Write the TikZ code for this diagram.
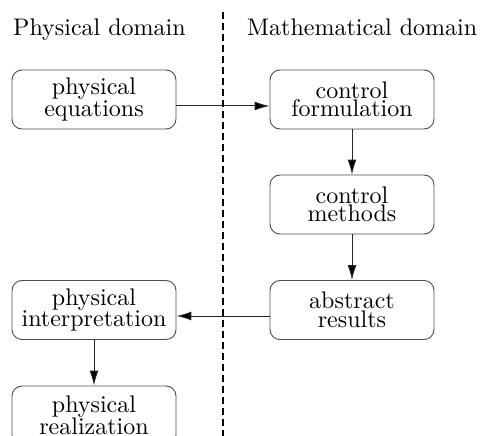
\documentclass[tikz,border=0pt]{standalone}
\usepackage{fontspec}
\setmainfont{lmroman10-regular.otf}
\usetikzlibrary{arrows.meta}
\begin{document}
\begin{tikzpicture}[x=1pt,y=-1pt,
  box/.style={draw=black!70, line width=0.9pt, rounded corners=10pt,
    minimum width=164pt, minimum height=59pt, inner sep=0pt, align=center,
    font=\fontsize{24}{18.5}\selectfont},
  title/.style={anchor=base west, inner sep=0pt, font=\fontsize{24}{28}\selectfont},
  arr/.style={draw=black!85, line width=1pt, -{Latex[length=15pt,width=9pt,fill=black]}}]
\useasboundingbox (0,0) rectangle (480,436);
\clip (0,0) rectangle (480,436);
\node[title] (tp) at (13,36) {Physical domain};
\node[title] (tm) at (247,36) {Mathematical domain};
\coordinate (dtop) at (223,12);
\coordinate (dbot) at (223,440);
\draw[line width=1.3pt, dash pattern=on 7pt off 4pt] (dtop) -- (dbot);
\node[box] (pe) at (94,99.5) {physical\\equations};
\node[box] (cf) at (352,99.5) {control\\formulation};
\node[box] (cm) at (352,204.5) {control\\methods};
\node[box] (ar) at (352,310) {abstract\\results};
\node[box] (pi) at (94,310) {physical\\interpretation};
\node[box] (pr) at (94,415.5) {physical\\realization};
\draw[arr] ([yshift=-6.5pt]pe.east) -- ([yshift=-6.5pt]cf.west);
\draw[arr] (cf) -- (cm);
\draw[arr] (cm) -- (ar);
\draw[arr] ([yshift=-6pt]ar.west) -- ([yshift=-6pt]pi.east);
\draw[arr] (pi) -- (pr);
\end{tikzpicture}
\end{document}
